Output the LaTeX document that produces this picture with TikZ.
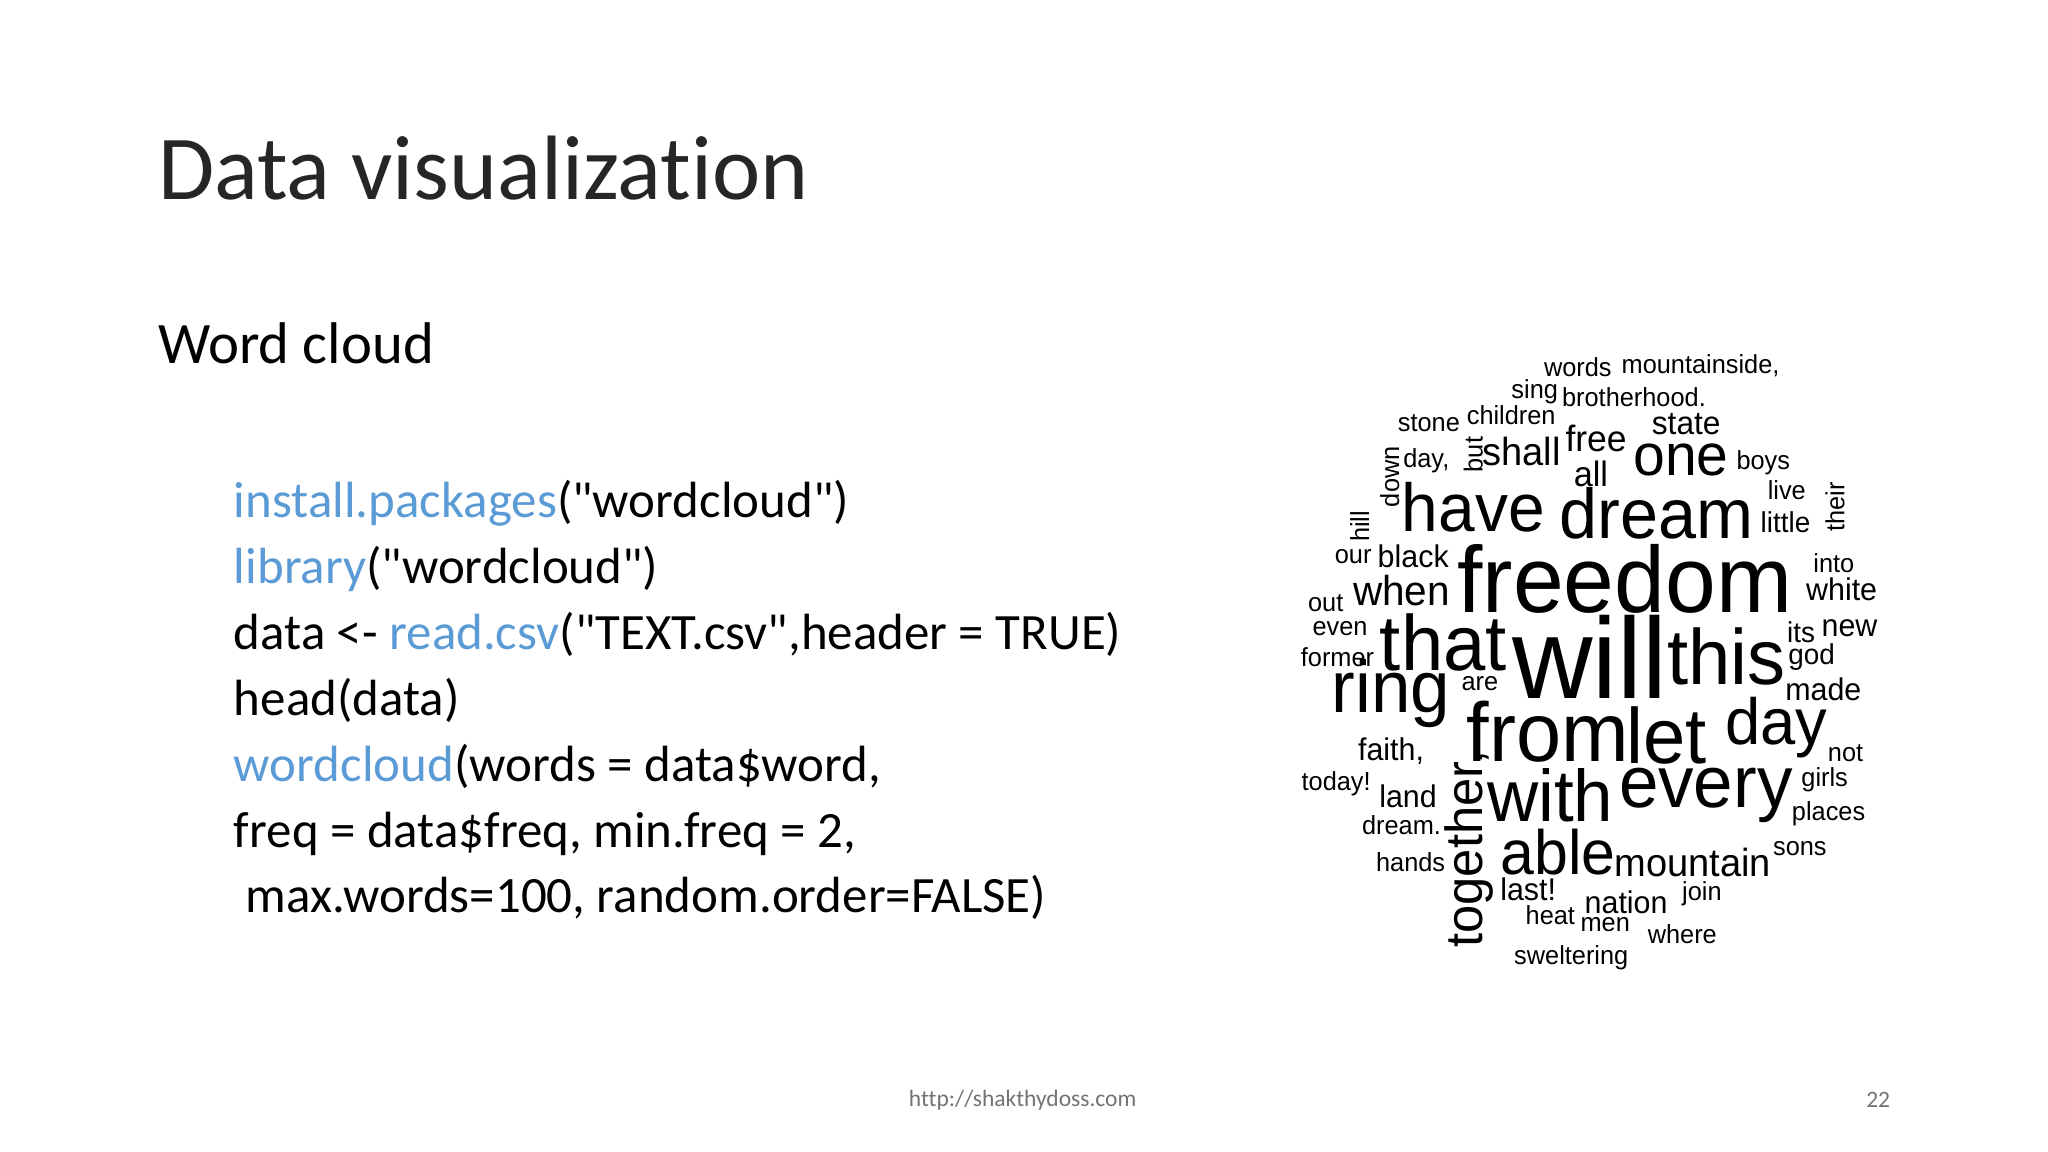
\documentclass[tikz,border=0pt]{standalone}
\usepackage{fontspec}
\setmainfont{Carlito}[Ligatures={TeXOff,NoCommon}]
\newfontfamily\cl[FakeStretch=0.97]{Liberation Sans}
\definecolor{codeblue}{HTML}{5B9BD5}
\newcommand\fs[1]{\fontsize{\fpeval{#1*1.306}pt}{\fpeval{#1*1.5}pt}\selectfont}
\newcommand\cw[5][0]{\node[wc,rotate=#1] (#2) at (#3) {\fs{#4}#5};}
\tikzset{wc/.style={inner sep=0pt,anchor=center,font=\cl},
  tx/.style={inner sep=0pt,anchor=base west},
  code/.style={tx,font=\fs{39}}}
\begin{document}
\begin{tikzpicture}[x=1.306pt,y=-1.306pt]
\useasboundingbox (0,0) rectangle (1568,882);
\node[tx,font=\fs{70},text=black!85] (title) at (121,153) {Data visualization};
\node[tx,font=\fs{45}] (sub) at (121,278) {Word cloud};
\node[code] (c1) at (179,396) {\textcolor{codeblue}{install.packages}("wordcloud")};
\node[code] (c2) at (179,447) {\textcolor{codeblue}{library}("wordcloud")};
\node[code] (c3) at (179,497) {data <- \textcolor{codeblue}{read.csv}("TEXT.csv",header = TRUE)};
\node[code] (c4) at (179,548) {head(data)};
\node[code] (c5) at (179,598) {\textcolor{codeblue}{wordcloud}(words = data\$word,};
\node[code] (c6) at (179,649) {freq = data\$freq, min.freq = 2,};
\node[code] (c7) at (179,699) {\ max.words=100, random.order=FALSE)};
\node[inner sep=0pt,text=black!55,font=\fs{18}] (url) at (783,842) {http://shakthydoss.com};
\node[inner sep=0pt,text=black!55,font=\fs{18}] (pg) at (1438,842) {22};
\cw{w1}{1208,281}{20}{words}
\cw{w2}{1302,280}{20}{mountainside,}
\cw{w3}{1175,300}{20}{sing}
\cw{w4}{1251,304}{20}{brotherhood.}
\cw{w5}{1094,324}{20}{stone}
\cw{w6}{1157,318}{20}{children}
\cw{w7}{1291,325}{25}{state}
\cw{w8}{1222,336}{28}{free}
\cw{w9}{1092,353}{20}{day,}
\cw[90]{w10}{1128,348}{20}{but}
\cw{w11}{1165,346}{30}{shall}
\cw{w12}{1287,352}{45}{one}
\cw{w13}{1350,354}{20}{boys}
\cw[90]{w14}{1064,365}{20}{down}
\cw{w15}{1218,363}{27}{all}
\cw{w16}{1368,375}{20}{live}
\cw[90]{w17}{1405,388}{20}{their}
\cw[90]{w18}{1041,403}{20}{hill}
\cw{w19}{1128,388}{52}{have}
\cw{w20}{1268,393}{54}{dream}
\cw{w21}{1367,400}{22}{little}
\cw{w22}{1036,426}{20}{our}
\cw{w23}{1082,426}{24}{black}
\cw{w24}{1244,443}{72}{freedom}
\cw{w25}{1404,431}{20}{into}
\cw{w26}{1410,451}{24}{white}
\cw{w27}{1073,452}{32}{when}
\cw{w28}{1015,462}{20}{out}
\cw{w29}{1026,481}{20}{even}
\cw{w30}{1105,492}{60}{that}
\cw{w31}{1217,503}{88}{will}
\cw{w32}{1322,503}{60}{this}
\cw{w33}{1379,484}{22}{its}
\cw{w34}{1416,481}{24}{new}
\cw{w35}{1024,503}{20}{former}
\cw{w36}{1387,503}{22}{god}
\cw{w37}{1065,531}{56}{ring}
\cw{w38}{1133,523}{20}{are}
\cw{w39}{1396,528}{24}{made}
\cw{w40}{1185,560}{64}{from}
\cw{w41}{1276,563}{60}{let}
\cw{w42}{1360,557}{50}{day}
\cw{w43}{1065,575}{24}{faith,}
\cw{w44}{1413,577}{20}{not}
\cw{w45}{1023,600}{20}{today!}
\cw{w46}{1397,597}{20}{girls}
\cw{w47}{1078,610}{24}{land}
\cw{w48}{1187,609}{56}{with}
\cw{w49}{1306,609}{56}{every}
\cw[90]{w50}{1125,650}{40}{together,}
\cw{w51}{1073,632}{20}{dream.}
\cw{w52}{1400,623}{20}{places}
\cw{w53}{1193,652}{48}{able}
\cw{w54}{1080,660}{20}{hands}
\cw{w55}{1378,650}{20}{sons}
\cw{w56}{1296,660}{30}{mountain}
\cw{w57}{1170,681}{24}{last!}
\cw{w58}{1303,684}{20}{join}
\cw{w59}{1245,691}{24}{nation}
\cw{w60}{1187,701}{20}{heat}
\cw{w61}{1229,708}{20}{men}
\cw{w62}{1288,715}{20}{where}
\cw{w63}{1203,733}{20}{sweltering}
\end{tikzpicture}
\end{document}
